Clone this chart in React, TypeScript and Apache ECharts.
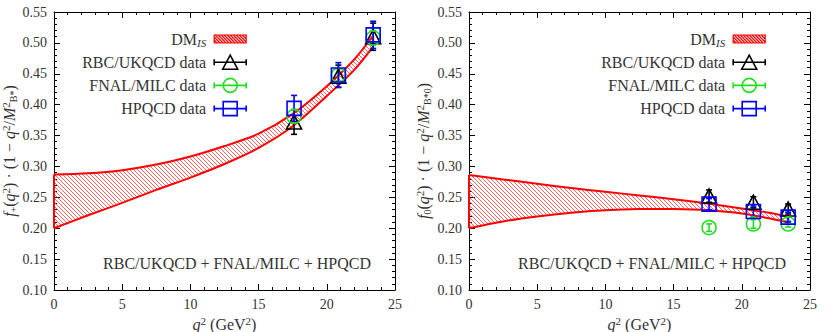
import React, { useEffect, useRef } from 'react';
import * as echarts from 'echarts';

const FONT = 'Liberation Serif';
const TXT = '#333';

// Band (DM_IS) sampled along q^2
const bandQ = [0, 2.5, 5, 7.5, 10, 12.5, 15, 17.5, 20, 22, 23.4];
const fPlusHi = [0.287, 0.289, 0.294, 0.303, 0.316, 0.333, 0.353, 0.385, 0.430, 0.473, 0.512];
const fPlusLo = [0.200, 0.221, 0.241, 0.262, 0.282, 0.304, 0.330, 0.365, 0.414, 0.456, 0.494];
const fZeroHi = [0.286, 0.279, 0.272, 0.265, 0.259, 0.253, 0.247, 0.240, 0.232, 0.225, 0.219];
const fZeroLo = [0.200, 0.211, 0.219, 0.225, 0.229, 0.231, 0.231, 0.229, 0.224, 0.216, 0.209];

// Lattice data points
const dataQ = [17.6, 20.85, 23.4];
const rbcFPlus = [0.372, 0.446, 0.510];
const rbcFPlusErr = [0.020, 0.018, 0.022];
const fnalFPlus = [0.381, 0.448, 0.508];
const fnalFPlusErr = [0.010, 0.010, 0.012];
const hpqcdFPlus = [0.394, 0.448, 0.513];
const hpqcdFPlusErr = [0.021, 0.020, 0.022];

const rbcFZero = [0.252, 0.242, 0.231];
const rbcFZeroErr = [0.010, 0.009, 0.008];
const fnalFZero = [0.201, 0.207, 0.207];
const fnalFZeroErr = [0.006, 0.007, 0.005];
const hpqcdFZero = [0.239, 0.227, 0.218];
const hpqcdFZeroErr = [0.009, 0.009, 0.008];

const legendNames = ['DM_IS', 'RBC/UKQCD data', 'FNAL/MILC data', 'HPQCD data'];
const footText = 'RBC/UKQCD + FNAL/MILC + HPQCD';

const ICON_TRI = 'path://M0,7L32,7M0,4L0,10M32,4L32,10M16,0L23.5,14L8.5,14Z';
const ICON_CIR = 'path://M0,7L32,7M0,4L0,10M32,4L32,10M9,7A7,7,0,1,1,23,7A7,7,0,1,1,9,7Z';
const ICON_SQR = 'path://M0,7L32,7M0,4L0,10M32,4L32,10M9,0L23,0L23,14L9,14Z';

function bandIcon() {
  let d = 'path://M0,0L32,0L32,8L0,8Z';
  for (let k = -8; k < 32; k += 3) {
    const xa = Math.max(k, 0);
    const xb = Math.min(k + 8, 32);
    d += `M${xa},${xa - k}L${xb},${xb - k}`;
  }
  return d;
}

function interpY(pts: number[][], x: number) {
  for (let k = 0; k < pts.length - 1; k++) {
    const a = pts[k];
    const b = pts[k + 1];
    if (x >= a[0] - 1e-9 && x <= b[0] + 1e-9) {
      const t = b[0] === a[0] ? 0 : (x - a[0]) / (b[0] - a[0]);
      return a[1] + t * (b[1] - a[1]);
    }
  }
  return pts[pts.length - 1][1];
}

function bandRenderItem(params: any, api: any) {
  if (params.dataIndexInside !== 0) return null;
  const n = params.dataInsideLength;
  const top: number[][] = [];
  const bot: number[][] = [];
  for (let i = 0; i < n; i++) {
    const q = api.value(0, i);
    top.push(api.coord([q, api.value(2, i)]));
    bot.push(api.coord([q, api.value(1, i)]));
  }
  const x0 = top[0][0];
  const x1 = top[n - 1][0];
  let minY = Infinity;
  let maxY = -Infinity;
  top.forEach((p) => (minY = Math.min(minY, p[1])));
  bot.forEach((p) => (maxY = Math.max(maxY, p[1])));
  const s = 4;
  const step = 0.5;
  const hatch: any[] = [];
  const hatchStyle = { stroke: 'rgba(255,40,40,0.8)', lineWidth: 0.9 };
  const cStart = Math.floor((minY - x1) / s) * s;
  for (let c = cStart; c <= maxY - x0; c += s) {
    let inside = false;
    let start = 0;
    let last = x0;
    for (let x = x0; x <= x1 + 1e-6; x += step) {
      const y = x + c;
      const ok = y >= interpY(top, x) && y <= interpY(bot, x);
      if (ok && !inside) {
        inside = true;
        start = x;
      } else if (!ok && inside) {
        inside = false;
        hatch.push({ type: 'line', silent: true, shape: { x1: start, y1: start + c, x2: last, y2: last + c }, style: hatchStyle });
      }
      last = x;
    }
    if (inside) {
      hatch.push({ type: 'line', silent: true, shape: { x1: start, y1: start + c, x2: last, y2: last + c }, style: hatchStyle });
    }
  }
  const edge = { stroke: '#ff0000', lineWidth: 2, fill: null };
  return {
    type: 'group',
    children: [
      ...hatch,
      { type: 'polyline', shape: { points: top, smooth: 0.3 }, style: edge },
      { type: 'polyline', shape: { points: bot, smooth: 0.3 }, style: edge },
      { type: 'line', shape: { x1: top[0][0], y1: top[0][1], x2: bot[0][0], y2: bot[0][1] }, style: edge },
      { type: 'line', shape: { x1: top[n - 1][0], y1: top[n - 1][1], x2: bot[n - 1][0], y2: bot[n - 1][1] }, style: edge },
    ],
  };
}

export default function App() {
  const ref = useRef<HTMLDivElement>(null);
  useEffect(() => {
    if (!ref.current) return;
    const chart = echarts.init(ref.current, null, { renderer: 'svg' });

    const grids = [
      { left: 54, top: 12, width: 341, height: 278 },
      { left: 469, top: 12, width: 341, height: 278 },
    ];

    const tickStyle = { lineStyle: { color: '#000', width: 1 } };
    const xAxes: any[] = [];
    const yAxes: any[] = [];
    const yNames = [
      '{i|f}{sb|+}({i|q}{sp|2}) · (1 − {i|q}{sp|2}/{i|M}{sp|2}{sb|B*})',
      '{i|f}{sb|0}({i|q}{sp|2}) · (1 − {i|q}{sp|2}/{i|M}{sp|2}{sb|B*0})',
    ];
    const richName = {
      i: { fontFamily: FONT, fontStyle: 'italic', fontSize: 16, lineHeight: 18, color: TXT },
      sp: { fontFamily: FONT, fontSize: 11, lineHeight: 10, verticalAlign: 'top', color: TXT },
      sb: { fontFamily: FONT, fontSize: 10, lineHeight: 8, verticalAlign: 'bottom', color: TXT },
    };
    [0, 1].forEach((g) => {
      const common = {
        type: 'value',
        gridIndex: g,
        min: 0,
        max: 25,
        interval: 5,
        splitLine: { show: false },
        axisLine: { show: true, onZero: false, lineStyle: { color: '#000', width: 1 } },
        axisTick: { show: true, inside: true, length: 6, ...tickStyle },
        minorTick: { show: true, splitNumber: 5, length: 3, ...tickStyle },
      };
      xAxes.push({
        ...common,
        position: 'bottom',
        axisLabel: { fontFamily: FONT, fontSize: 14, color: TXT, margin: 7 },
        name: '{i|q}{sp|2} (GeV{sp|2})',
        nameLocation: 'middle',
        nameGap: 19,
        nameTextStyle: { fontFamily: FONT, fontSize: 16, color: TXT, lineHeight: 18, rich: richName },
      });
      xAxes.push({ ...common, position: 'top', axisLabel: { show: false } });
      const ycommon = {
        type: 'value',
        gridIndex: g,
        min: 0.1,
        max: 0.55,
        interval: 0.05,
        splitLine: { show: false },
        axisLine: { show: true, onZero: false, lineStyle: { color: '#000', width: 1 } },
        axisTick: { show: true, inside: true, length: 6, ...tickStyle },
        minorTick: { show: true, splitNumber: 5, length: 3, ...tickStyle },
      };
      yAxes.push({
        ...ycommon,
        position: 'left',
        axisLabel: {
          fontFamily: FONT,
          fontSize: 14,
          color: TXT,
          margin: 7,
          formatter: (v: number) => v.toFixed(2),
        },
        name: yNames[g],
        nameLocation: 'middle',
        nameRotate: 90,
        nameGap: g === 0 ? 34 : 37,
        nameTextStyle: { fontFamily: FONT, fontSize: 16, color: TXT, lineHeight: 18, rich: richName },
      });
      yAxes.push({ ...ycommon, position: 'right', axisLabel: { show: false } });
    });

    const sets = [
      {
        hi: fPlusHi,
        lo: fPlusLo,
        pts: [
          { name: legendNames[1], v: rbcFPlus, e: rbcFPlusErr, color: '#000', symbol: 'triangle', size: [15, 14] },
          { name: legendNames[2], v: fnalFPlus, e: fnalFPlusErr, color: '#22dd22', symbol: 'circle', size: 14 },
          { name: legendNames[3], v: hpqcdFPlus, e: hpqcdFPlusErr, color: '#0000ff', symbol: 'rect', size: 14 },
        ],
      },
      {
        hi: fZeroHi,
        lo: fZeroLo,
        pts: [
          { name: legendNames[1], v: rbcFZero, e: rbcFZeroErr, color: '#000', symbol: 'triangle', size: [15, 14] },
          { name: legendNames[2], v: fnalFZero, e: fnalFZeroErr, color: '#22dd22', symbol: 'circle', size: 14 },
          { name: legendNames[3], v: hpqcdFZero, e: hpqcdFZeroErr, color: '#0000ff', symbol: 'rect', size: 14 },
        ],
      },
    ];

    const series: any[] = [];
    sets.forEach((s, g) => {
      const ax = { xAxisIndex: 2 * g, yAxisIndex: 2 * g };
      series.push({
        type: 'custom',
        name: legendNames[0],
        ...ax,
        silent: true,
        itemStyle: { color: '#ff0000' },
        data: bandQ.map((q, i) => [q, s.lo[i], s.hi[i]]),
        renderItem: bandRenderItem,
      });
      s.pts.forEach((p) => {
        series.push({
          type: 'custom',
          name: p.name + '-err-' + g,
          ...ax,
          silent: true,
          data: dataQ.map((q, i) => [q, p.v[i] - p.e[i], p.v[i] + p.e[i]]),
          renderItem: (params: any, api: any) => {
            const x = api.value(0);
            const a = api.coord([x, api.value(1)]);
            const b = api.coord([x, api.value(2)]);
            const st = { stroke: p.color, lineWidth: 1.6 };
            const c = 3;
            return {
              type: 'group',
              children: [
                { type: 'line', shape: { x1: a[0], y1: a[1], x2: b[0], y2: b[1] }, style: st },
                { type: 'line', shape: { x1: a[0] - c, y1: a[1], x2: a[0] + c, y2: a[1] }, style: st },
                { type: 'line', shape: { x1: b[0] - c, y1: b[1], x2: b[0] + c, y2: b[1] }, style: st },
              ],
            };
          },
        });
        series.push({
          type: 'scatter',
          name: p.name,
          ...ax,
          silent: true,
          symbol: p.symbol,
          symbolSize: p.size,
          data: dataQ.map((q, i) => [q, p.v[i]]),
          itemStyle: { color: 'rgba(0,0,0,0)', borderColor: p.color, borderWidth: 1.6, opacity: 1 },
        });
      });
    });

    const legendData = [
      {
        name: legendNames[0],
        icon: bandIcon(),
        itemStyle: { color: '#fff', borderColor: '#ff0000', borderWidth: 1.2 },
      },
      {
        name: legendNames[1],
        icon: ICON_TRI,
        itemStyle: { color: 'rgba(0,0,0,0)', borderColor: '#000', borderWidth: 1.6 },
      },
      {
        name: legendNames[2],
        icon: ICON_CIR,
        itemStyle: { color: 'rgba(0,0,0,0)', borderColor: '#22dd22', borderWidth: 1.6 },
      },
      {
        name: legendNames[3],
        icon: ICON_SQR,
        itemStyle: { color: 'rgba(0,0,0,0)', borderColor: '#0000ff', borderWidth: 1.6 },
      },
    ];
    const legendBase = {
      orient: 'vertical',
      align: 'right',
      top: 25,
      itemWidth: 32,
      itemHeight: 14,
      itemGap: 5.2,
      symbolKeepAspect: true,
      selectedMode: false,
      data: legendData,
      formatter: (name: string) => (name === 'DM_IS' ? '{t|DM}{s|IS}' : '{t|' + name + '}'),
      textStyle: {
        fontFamily: FONT,
        fontSize: 16,
        color: TXT,
        lineHeight: 18,
        padding: [0, 3, 0, 0],
        rich: {
          t: { fontFamily: FONT, fontSize: 16, color: TXT, lineHeight: 18 },
          s: { fontFamily: FONT, fontSize: 11, fontStyle: 'italic', color: TXT, lineHeight: 9, verticalAlign: 'bottom' },
        },
      },
    };

    chart.setOption({
      animation: false,
      grid: grids.map((g) => ({ ...g, containLabel: false, outerBoundsMode: 'none' })),
      xAxis: xAxes,
      yAxis: yAxes,
      legend: [
        { ...legendBase, right: 578 },
        { ...legendBase, right: 59 },
      ],
      graphic: [
        {
          type: 'text',
          x: 237,
          y: 263,
          style: { text: footText, fontFamily: FONT, fontSize: 16, fill: TXT, align: 'center', verticalAlign: 'middle' },
        },
        {
          type: 'text',
          x: 652,
          y: 263,
          style: { text: footText, fontFamily: FONT, fontSize: 16, fill: TXT, align: 'center', verticalAlign: 'middle' },
        },
      ],
      series,
    });
    return () => chart.dispose();
  }, []);
  return (
    <div
      ref={ref}
      style={{ position: 'absolute', left: 0, top: 0, width: 830, height: 332, background: '#fff' }}
    />
  );
}
